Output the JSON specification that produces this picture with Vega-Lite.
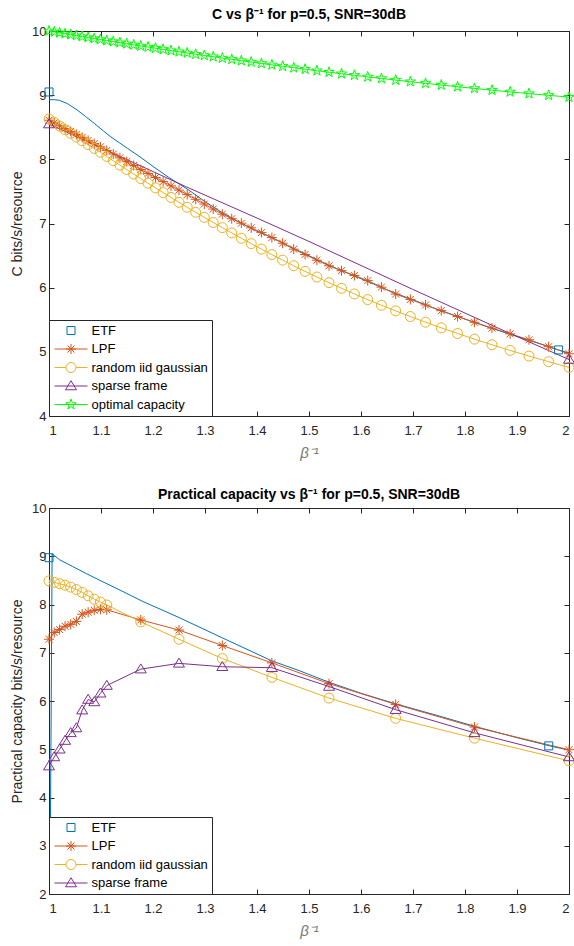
{
  "$schema": "https://vega.github.io/schema/vega-lite/v6.json",
  "padding": {"left": 10, "top": 7, "right": 2, "bottom": 2},
  "background": "white",
  "bounds": "flush",
  "spacing": 92,
  "config": {
    "font": "Liberation Sans",
    "view": {"stroke": "#262626", "strokeWidth": 1},
    "axis": {"grid": false, "domainColor": "#262626", "tickColor": "#262626", "labelColor": "#262626", "labelFontSize": 13, "titleFontSize": 14, "titleFontWeight": "normal", "titleColor": "#262626", "tickSize": -5, "domainWidth": 1, "tickWidth": 1},
    "axisX": {"labelPadding": 13, "titlePadding": 8, "titleFontStyle": "italic", "titleColor": "#777777", "titleFontSize": 15},
    "axisY": {"labelPadding": 8, "titlePadding": 7},
    "title": {"fontSize": 14, "fontWeight": "bold", "color": "#000000", "offset": 2},
    "point": {"filled": false, "size": 100, "strokeWidth": 1, "opacity": 1},
    "legend": {"orient": "bottom-left", "offset": 0, "padding": 4, "fillColor": "white", "strokeColor": "#262626", "strokeWidth": 1, "labelFontSize": 13, "labelColor": "#000000", "symbolSize": 100, "symbolStrokeWidth": 1, "symbolOffset": 11.5, "labelOffset": 14, "rowPadding": 3.5, "title": null}
  },
  "datasets": {
    "top_lines": [
      {"series": "ETF", "x": 1.0, "y": 8.93}, {"series": "ETF", "x": 1.01, "y": 8.93}, {"series": "ETF", "x": 1.02, "y": 8.92}, {"series": "ETF", "x": 1.035, "y": 8.87}, {"series": "ETF", "x": 1.054, "y": 8.77}, {"series": "ETF", "x": 1.07, "y": 8.67}, {"series": "ETF", "x": 1.087, "y": 8.56}, {"series": "ETF", "x": 1.105, "y": 8.44}, {"series": "ETF", "x": 1.119, "y": 8.35}, {"series": "ETF", "x": 1.135, "y": 8.26}, {"series": "ETF", "x": 1.151, "y": 8.17}, {"series": "ETF", "x": 1.173, "y": 8.05}, {"series": "ETF", "x": 1.2, "y": 7.89}, {"series": "ETF", "x": 1.23, "y": 7.72}, {"series": "ETF", "x": 1.269, "y": 7.52}, {"series": "ETF", "x": 1.3, "y": 7.34}, {"series": "ETF", "x": 1.333, "y": 7.17}, {"series": "ETF", "x": 1.366, "y": 7.02}, {"series": "ETF", "x": 1.397, "y": 6.89}, {"series": "ETF", "x": 1.429, "y": 6.78}, {"series": "ETF", "x": 1.471, "y": 6.61}, {"series": "ETF", "x": 1.538, "y": 6.35}, {"series": "ETF", "x": 1.6, "y": 6.14}, {"series": "ETF", "x": 1.667, "y": 5.91}, {"series": "ETF", "x": 1.7, "y": 5.81}, {"series": "ETF", "x": 1.75, "y": 5.65}, {"series": "ETF", "x": 1.8, "y": 5.51}, {"series": "ETF", "x": 1.85, "y": 5.37}, {"series": "ETF", "x": 1.9, "y": 5.24}, {"series": "ETF", "x": 1.95, "y": 5.11}, {"series": "ETF", "x": 1.98, "y": 5.03}, {"series": "ETF", "x": 2.0, "y": 4.98},
      {"series": "LPF", "x": 1.0, "y": 8.61}, {"series": "LPF", "x": 1.0101, "y": 8.568}, {"series": "LPF", "x": 1.0204, "y": 8.524}, {"series": "LPF", "x": 1.0309, "y": 8.48}, {"series": "LPF", "x": 1.0417, "y": 8.435}, {"series": "LPF", "x": 1.0526, "y": 8.389}, {"series": "LPF", "x": 1.0638, "y": 8.342}, {"series": "LPF", "x": 1.0753, "y": 8.294}, {"series": "LPF", "x": 1.087, "y": 8.245}, {"series": "LPF", "x": 1.0989, "y": 8.195}, {"series": "LPF", "x": 1.1111, "y": 8.139}, {"series": "LPF", "x": 1.1236, "y": 8.082}, {"series": "LPF", "x": 1.1364, "y": 8.024}, {"series": "LPF", "x": 1.1494, "y": 7.965}, {"series": "LPF", "x": 1.1628, "y": 7.904}, {"series": "LPF", "x": 1.1765, "y": 7.841}, {"series": "LPF", "x": 1.1905, "y": 7.78}, {"series": "LPF", "x": 1.2048, "y": 7.717}, {"series": "LPF", "x": 1.2195, "y": 7.653}, {"series": "LPF", "x": 1.2346, "y": 7.587}, {"series": "LPF", "x": 1.25, "y": 7.52}, {"series": "LPF", "x": 1.2658, "y": 7.451}, {"series": "LPF", "x": 1.2821, "y": 7.377}, {"series": "LPF", "x": 1.2987, "y": 7.303}, {"series": "LPF", "x": 1.3158, "y": 7.225}, {"series": "LPF", "x": 1.3333, "y": 7.146}, {"series": "LPF", "x": 1.3514, "y": 7.075}, {"series": "LPF", "x": 1.3699, "y": 7.005}, {"series": "LPF", "x": 1.3889, "y": 6.933}, {"series": "LPF", "x": 1.4085, "y": 6.858}, {"series": "LPF", "x": 1.4286, "y": 6.78}, {"series": "LPF", "x": 1.4493, "y": 6.693}, {"series": "LPF", "x": 1.4706, "y": 6.6}, {"series": "LPF", "x": 1.4925, "y": 6.517}, {"series": "LPF", "x": 1.5152, "y": 6.428}, {"series": "LPF", "x": 1.5385, "y": 6.34}, {"series": "LPF", "x": 1.5625, "y": 6.265}, {"series": "LPF", "x": 1.5873, "y": 6.189}, {"series": "LPF", "x": 1.6129, "y": 6.11}, {"series": "LPF", "x": 1.6393, "y": 6.008}, {"series": "LPF", "x": 1.6667, "y": 5.9}, {"series": "LPF", "x": 1.6949, "y": 5.817}, {"series": "LPF", "x": 1.7241, "y": 5.73}, {"series": "LPF", "x": 1.7544, "y": 5.642}, {"series": "LPF", "x": 1.7857, "y": 5.55}, {"series": "LPF", "x": 1.8182, "y": 5.461}, {"series": "LPF", "x": 1.8519, "y": 5.37}, {"series": "LPF", "x": 1.8868, "y": 5.28}, {"series": "LPF", "x": 1.9231, "y": 5.188}, {"series": "LPF", "x": 1.9608, "y": 5.08}, {"series": "LPF", "x": 2.0, "y": 4.97},
      {"series": "random iid gaussian", "x": 1.0, "y": 8.63}, {"series": "random iid gaussian", "x": 1.0101, "y": 8.575}, {"series": "random iid gaussian", "x": 1.0204, "y": 8.519}, {"series": "random iid gaussian", "x": 1.0309, "y": 8.462}, {"series": "random iid gaussian", "x": 1.0417, "y": 8.405}, {"series": "random iid gaussian", "x": 1.0526, "y": 8.347}, {"series": "random iid gaussian", "x": 1.0638, "y": 8.289}, {"series": "random iid gaussian", "x": 1.0753, "y": 8.23}, {"series": "random iid gaussian", "x": 1.087, "y": 8.171}, {"series": "random iid gaussian", "x": 1.0989, "y": 8.111}, {"series": "random iid gaussian", "x": 1.1111, "y": 8.045}, {"series": "random iid gaussian", "x": 1.1236, "y": 7.978}, {"series": "random iid gaussian", "x": 1.1364, "y": 7.91}, {"series": "random iid gaussian", "x": 1.1494, "y": 7.841}, {"series": "random iid gaussian", "x": 1.1628, "y": 7.771}, {"series": "random iid gaussian", "x": 1.1765, "y": 7.7}, {"series": "random iid gaussian", "x": 1.1905, "y": 7.628}, {"series": "random iid gaussian", "x": 1.2048, "y": 7.555}, {"series": "random iid gaussian", "x": 1.2195, "y": 7.481}, {"series": "random iid gaussian", "x": 1.2346, "y": 7.406}, {"series": "random iid gaussian", "x": 1.25, "y": 7.33}, {"series": "random iid gaussian", "x": 1.2658, "y": 7.253}, {"series": "random iid gaussian", "x": 1.2821, "y": 7.175}, {"series": "random iid gaussian", "x": 1.2987, "y": 7.096}, {"series": "random iid gaussian", "x": 1.3158, "y": 7.016}, {"series": "random iid gaussian", "x": 1.3333, "y": 6.935}, {"series": "random iid gaussian", "x": 1.3514, "y": 6.853}, {"series": "random iid gaussian", "x": 1.3699, "y": 6.77}, {"series": "random iid gaussian", "x": 1.3889, "y": 6.686}, {"series": "random iid gaussian", "x": 1.4085, "y": 6.601}, {"series": "random iid gaussian", "x": 1.4286, "y": 6.515}, {"series": "random iid gaussian", "x": 1.4493, "y": 6.429}, {"series": "random iid gaussian", "x": 1.4706, "y": 6.342}, {"series": "random iid gaussian", "x": 1.4925, "y": 6.254}, {"series": "random iid gaussian", "x": 1.5152, "y": 6.166}, {"series": "random iid gaussian", "x": 1.5385, "y": 6.078}, {"series": "random iid gaussian", "x": 1.5625, "y": 5.99}, {"series": "random iid gaussian", "x": 1.5873, "y": 5.902}, {"series": "random iid gaussian", "x": 1.6129, "y": 5.814}, {"series": "random iid gaussian", "x": 1.6393, "y": 5.726}, {"series": "random iid gaussian", "x": 1.6667, "y": 5.638}, {"series": "random iid gaussian", "x": 1.6949, "y": 5.55}, {"series": "random iid gaussian", "x": 1.7241, "y": 5.462}, {"series": "random iid gaussian", "x": 1.7544, "y": 5.374}, {"series": "random iid gaussian", "x": 1.7857, "y": 5.286}, {"series": "random iid gaussian", "x": 1.8182, "y": 5.198}, {"series": "random iid gaussian", "x": 1.8519, "y": 5.11}, {"series": "random iid gaussian", "x": 1.8868, "y": 5.022}, {"series": "random iid gaussian", "x": 1.9231, "y": 4.934}, {"series": "random iid gaussian", "x": 1.9608, "y": 4.846}, {"series": "random iid gaussian", "x": 2.0, "y": 4.758},
      {"series": "sparse frame", "x": 1.0, "y": 8.55}, {"series": "sparse frame", "x": 1.173, "y": 7.91}, {"series": "sparse frame", "x": 1.263, "y": 7.575}, {"series": "sparse frame", "x": 1.404, "y": 7.07}, {"series": "sparse frame", "x": 1.5, "y": 6.72}, {"series": "sparse frame", "x": 1.699, "y": 5.975}, {"series": "sparse frame", "x": 1.891, "y": 5.27}, {"series": "sparse frame", "x": 2.0, "y": 4.88},
      {"series": "optimal capacity", "x": 1.0, "y": 10.0}, {"series": "optimal capacity", "x": 1.0101, "y": 9.986}, {"series": "optimal capacity", "x": 1.0204, "y": 9.972}, {"series": "optimal capacity", "x": 1.0309, "y": 9.958}, {"series": "optimal capacity", "x": 1.0417, "y": 9.943}, {"series": "optimal capacity", "x": 1.0526, "y": 9.928}, {"series": "optimal capacity", "x": 1.0638, "y": 9.913}, {"series": "optimal capacity", "x": 1.0753, "y": 9.898}, {"series": "optimal capacity", "x": 1.087, "y": 9.882}, {"series": "optimal capacity", "x": 1.0989, "y": 9.867}, {"series": "optimal capacity", "x": 1.1111, "y": 9.851}, {"series": "optimal capacity", "x": 1.1236, "y": 9.835}, {"series": "optimal capacity", "x": 1.1364, "y": 9.818}, {"series": "optimal capacity", "x": 1.1494, "y": 9.801}, {"series": "optimal capacity", "x": 1.1628, "y": 9.784}, {"series": "optimal capacity", "x": 1.1765, "y": 9.767}, {"series": "optimal capacity", "x": 1.1905, "y": 9.75}, {"series": "optimal capacity", "x": 1.2048, "y": 9.732}, {"series": "optimal capacity", "x": 1.2195, "y": 9.714}, {"series": "optimal capacity", "x": 1.2346, "y": 9.695}, {"series": "optimal capacity", "x": 1.25, "y": 9.677}, {"series": "optimal capacity", "x": 1.2658, "y": 9.658}, {"series": "optimal capacity", "x": 1.2821, "y": 9.638}, {"series": "optimal capacity", "x": 1.2987, "y": 9.619}, {"series": "optimal capacity", "x": 1.3158, "y": 9.599}, {"series": "optimal capacity", "x": 1.3333, "y": 9.578}, {"series": "optimal capacity", "x": 1.3514, "y": 9.558}, {"series": "optimal capacity", "x": 1.3699, "y": 9.537}, {"series": "optimal capacity", "x": 1.3889, "y": 9.516}, {"series": "optimal capacity", "x": 1.4085, "y": 9.494}, {"series": "optimal capacity", "x": 1.4286, "y": 9.472}, {"series": "optimal capacity", "x": 1.4493, "y": 9.45}, {"series": "optimal capacity", "x": 1.4706, "y": 9.428}, {"series": "optimal capacity", "x": 1.4925, "y": 9.405}, {"series": "optimal capacity", "x": 1.5152, "y": 9.381}, {"series": "optimal capacity", "x": 1.5385, "y": 9.358}, {"series": "optimal capacity", "x": 1.5625, "y": 9.334}, {"series": "optimal capacity", "x": 1.5873, "y": 9.31}, {"series": "optimal capacity", "x": 1.6129, "y": 9.285}, {"series": "optimal capacity", "x": 1.6393, "y": 9.26}, {"series": "optimal capacity", "x": 1.6667, "y": 9.235}, {"series": "optimal capacity", "x": 1.6949, "y": 9.21}, {"series": "optimal capacity", "x": 1.7241, "y": 9.184}, {"series": "optimal capacity", "x": 1.7544, "y": 9.158}, {"series": "optimal capacity", "x": 1.7857, "y": 9.131}, {"series": "optimal capacity", "x": 1.8182, "y": 9.105}, {"series": "optimal capacity", "x": 1.8519, "y": 9.078}, {"series": "optimal capacity", "x": 1.8868, "y": 9.051}, {"series": "optimal capacity", "x": 1.9231, "y": 9.024}, {"series": "optimal capacity", "x": 1.9608, "y": 8.997}, {"series": "optimal capacity", "x": 2.0, "y": 8.97}
    ],
    "top_markers": [
      {"series": "ETF", "x": 1.0, "y": 9.05}, {"series": "ETF", "x": 1.98, "y": 5.03},
      {"series": "sparse frame", "x": 1.0, "y": 8.55}, {"series": "sparse frame", "x": 2.0, "y": 4.88}
    ],
    "bottom_lines": [
      {"series": "ETF", "x": 1.002, "y": 2.0}, {"series": "ETF", "x": 1.006, "y": 9.05}, {"series": "ETF", "x": 1.02, "y": 8.93}, {"series": "ETF", "x": 1.045, "y": 8.79}, {"series": "ETF", "x": 1.07, "y": 8.65}, {"series": "ETF", "x": 1.096, "y": 8.51}, {"series": "ETF", "x": 1.14, "y": 8.28}, {"series": "ETF", "x": 1.179, "y": 8.07}, {"series": "ETF", "x": 1.25, "y": 7.73}, {"series": "ETF", "x": 1.333, "y": 7.31}, {"series": "ETF", "x": 1.429, "y": 6.83}, {"series": "ETF", "x": 1.481, "y": 6.63}, {"series": "ETF", "x": 1.538, "y": 6.39}, {"series": "ETF", "x": 1.6, "y": 6.16}, {"series": "ETF", "x": 1.667, "y": 5.94}, {"series": "ETF", "x": 1.75, "y": 5.69}, {"series": "ETF", "x": 1.82, "y": 5.47}, {"series": "ETF", "x": 1.9, "y": 5.24}, {"series": "ETF", "x": 1.963, "y": 5.07}, {"series": "ETF", "x": 2.0, "y": 4.98},
      {"series": "LPF", "x": 1.0, "y": 7.28}, {"series": "LPF", "x": 1.0101, "y": 7.42}, {"series": "LPF", "x": 1.0204, "y": 7.48}, {"series": "LPF", "x": 1.0309, "y": 7.55}, {"series": "LPF", "x": 1.0417, "y": 7.59}, {"series": "LPF", "x": 1.0526, "y": 7.65}, {"series": "LPF", "x": 1.0638, "y": 7.8}, {"series": "LPF", "x": 1.0753, "y": 7.84}, {"series": "LPF", "x": 1.087, "y": 7.88}, {"series": "LPF", "x": 1.0989, "y": 7.9}, {"series": "LPF", "x": 1.1111, "y": 7.89}, {"series": "LPF", "x": 1.1765, "y": 7.68}, {"series": "LPF", "x": 1.25, "y": 7.47}, {"series": "LPF", "x": 1.3333, "y": 7.15}, {"series": "LPF", "x": 1.4286, "y": 6.79}, {"series": "LPF", "x": 1.5385, "y": 6.36}, {"series": "LPF", "x": 1.6667, "y": 5.93}, {"series": "LPF", "x": 1.8182, "y": 5.46}, {"series": "LPF", "x": 2.0, "y": 4.99},
      {"series": "random iid gaussian", "x": 1.0, "y": 8.49}, {"series": "random iid gaussian", "x": 1.0101, "y": 8.46}, {"series": "random iid gaussian", "x": 1.0204, "y": 8.43}, {"series": "random iid gaussian", "x": 1.0309, "y": 8.4}, {"series": "random iid gaussian", "x": 1.0417, "y": 8.36}, {"series": "random iid gaussian", "x": 1.0526, "y": 8.31}, {"series": "random iid gaussian", "x": 1.0638, "y": 8.25}, {"series": "random iid gaussian", "x": 1.0753, "y": 8.18}, {"series": "random iid gaussian", "x": 1.087, "y": 8.11}, {"series": "random iid gaussian", "x": 1.0989, "y": 8.05}, {"series": "random iid gaussian", "x": 1.1111, "y": 7.99}, {"series": "random iid gaussian", "x": 1.1765, "y": 7.64}, {"series": "random iid gaussian", "x": 1.25, "y": 7.28}, {"series": "random iid gaussian", "x": 1.3333, "y": 6.88}, {"series": "random iid gaussian", "x": 1.4286, "y": 6.49}, {"series": "random iid gaussian", "x": 1.5385, "y": 6.06}, {"series": "random iid gaussian", "x": 1.6667, "y": 5.64}, {"series": "random iid gaussian", "x": 1.8182, "y": 5.23}, {"series": "random iid gaussian", "x": 2.0, "y": 4.76},
      {"series": "sparse frame", "x": 1.0, "y": 4.65}, {"series": "sparse frame", "x": 1.0101, "y": 4.84}, {"series": "sparse frame", "x": 1.0204, "y": 5.0}, {"series": "sparse frame", "x": 1.0309, "y": 5.18}, {"series": "sparse frame", "x": 1.0417, "y": 5.34}, {"series": "sparse frame", "x": 1.0526, "y": 5.44}, {"series": "sparse frame", "x": 1.0638, "y": 5.81}, {"series": "sparse frame", "x": 1.0753, "y": 6.03}, {"series": "sparse frame", "x": 1.087, "y": 5.98}, {"series": "sparse frame", "x": 1.0989, "y": 6.16}, {"series": "sparse frame", "x": 1.1111, "y": 6.32}, {"series": "sparse frame", "x": 1.1765, "y": 6.66}, {"series": "sparse frame", "x": 1.25, "y": 6.78}, {"series": "sparse frame", "x": 1.3333, "y": 6.71}, {"series": "sparse frame", "x": 1.4286, "y": 6.69}, {"series": "sparse frame", "x": 1.5385, "y": 6.3}, {"series": "sparse frame", "x": 1.6667, "y": 5.82}, {"series": "sparse frame", "x": 1.8182, "y": 5.34}, {"series": "sparse frame", "x": 2.0, "y": 4.84}
    ],
    "bottom_markers": [
      {"series": "ETF", "x": 1.0, "y": 8.97}, {"series": "ETF", "x": 1.961, "y": 5.07}
    ]
  },
  "resolve": {"scale": {"color": "independent", "x": "independent", "y": "independent"}, "legend": {"color": "independent"}},
  "vconcat": [
    {
      "width": 520, "height": 385,
      "title": {"text": "C vs β⁻¹ for p=0.5, SNR=30dB", "offset": 2},
      "resolve": {"axis": {"x": "independent", "y": "independent"}},
      "layer": [
        {
          "data": {"name": "top_lines"},
          "mark": {"type": "line", "strokeWidth": 1, "clip": true},
          "encoding": {
            "x": {"field": "x", "type": "quantitative", "scale": {"domain": [1, 2], "nice": false, "zero": false}, "axis": {"title": "β⁻¹", "values": [1, 1.1, 1.2, 1.3, 1.4, 1.5, 1.6, 1.7, 1.8, 1.9, 2], "format": "~g"}},
            "y": {"field": "y", "type": "quantitative", "scale": {"domain": [4, 10], "nice": false, "zero": false}, "axis": {"title": "C bits/s/resource", "values": [4, 5, 6, 7, 8, 9, 10]}},
            "color": {"field": "series", "type": "nominal", "scale": {"domain": ["ETF", "LPF", "random iid gaussian", "sparse frame", "optimal capacity"], "range": ["#0072BD", "#D95319", "#EDB120", "#7E2F8E", "#00FF00"]},
              "legend": {"encode": {"symbols": {"update": {"fill": {"value": "transparent"}, "shape": {"signal": "datum.value === 'ETF' ? 'M-0.8,-0.8H0.8V0.8H-0.8Z' : datum.value === 'LPF' ? 'M-3.3,0H3.3M0,-1V1M-1,0H1M-0.7,-0.7L0.7,0.7M-0.7,0.7L0.7,-0.7' : datum.value === 'random iid gaussian' ? 'M-3.3,0H-1M1,0H3.3M-1,0A1,1,0,1,1,1,0A1,1,0,1,1,-1,0Z' : datum.value === 'sparse frame' ? 'M-3.3,0H3.3M0,-1.05L1.1,0.75H-1.1Z' : 'M-3.3,0H3.3M0,-1.1L0.247,-0.34L1.046,-0.34L0.399,0.13L0.647,0.89L0,0.42L-0.647,0.89L-0.399,0.13L-1.046,-0.34L-0.247,-0.34Z'"}}}}}},
            "detail": {"field": "series"}
          }
        },
        {
          "data": {"name": "top_lines"},
          "transform": [{"filter": {"field": "series", "equal": "LPF"}}],
          "mark": {"type": "point", "shape": "M0,-1V1M-1,0H1M-0.7,-0.7L0.7,0.7M-0.7,0.7L0.7,-0.7"},
          "encoding": {
            "x": {"field": "x", "type": "quantitative", "axis": null},
            "y": {"field": "y", "type": "quantitative", "axis": null},
            "color": {"field": "series", "type": "nominal"}
          }
        },
        {
          "data": {"name": "top_lines"},
          "transform": [{"filter": {"field": "series", "equal": "random iid gaussian"}}],
          "mark": {"type": "point", "shape": "M-1,0A1,1,0,1,1,1,0A1,1,0,1,1,-1,0Z"},
          "encoding": {
            "x": {"field": "x", "type": "quantitative", "axis": null},
            "y": {"field": "y", "type": "quantitative", "axis": null},
            "color": {"field": "series", "type": "nominal"}
          }
        },
        {
          "data": {"name": "top_lines"},
          "transform": [{"filter": {"field": "series", "equal": "optimal capacity"}}],
          "mark": {"type": "point", "shape": "M0,-1.1L0.247,-0.34L1.046,-0.34L0.399,0.13L0.647,0.89L0,0.42L-0.647,0.89L-0.399,0.13L-1.046,-0.34L-0.247,-0.34Z"},
          "encoding": {
            "x": {"field": "x", "type": "quantitative", "axis": null},
            "y": {"field": "y", "type": "quantitative", "axis": null},
            "color": {"field": "series", "type": "nominal"}
          }
        },
        {
          "data": {"name": "top_markers"},
          "transform": [{"filter": {"field": "series", "equal": "sparse frame"}}],
          "mark": {"type": "point", "shape": "M0,-1.05L1.1,0.75H-1.1Z"},
          "encoding": {
            "x": {"field": "x", "type": "quantitative", "axis": null},
            "y": {"field": "y", "type": "quantitative", "axis": null},
            "color": {"field": "series", "type": "nominal"}
          }
        },
        {
          "data": {"name": "top_markers"},
          "transform": [{"filter": {"field": "series", "equal": "ETF"}}],
          "mark": {"type": "point", "shape": "M-0.8,-0.8H0.8V0.8H-0.8Z"},
          "encoding": {
            "x": {"field": "x", "type": "quantitative", "axis": {"orient": "top", "labels": false, "title": null, "domain": false, "values": [1, 1.1, 1.2, 1.3, 1.4, 1.5, 1.6, 1.7, 1.8, 1.9, 2]}},
            "y": {"field": "y", "type": "quantitative", "axis": {"orient": "right", "labels": false, "title": null, "domain": false, "values": [4, 5, 6, 7, 8, 9, 10]}},
            "color": {"field": "series", "type": "nominal"}
          }
        }
      ]
    },
    {
      "width": 520, "height": 386,
      "title": {"text": "Practical capacity vs β⁻¹ for p=0.5, SNR=30dB", "offset": 0},
      "resolve": {"axis": {"x": "independent", "y": "independent"}},
      "layer": [
        {
          "data": {"name": "bottom_lines"},
          "mark": {"type": "line", "strokeWidth": 1, "clip": true},
          "encoding": {
            "x": {"field": "x", "type": "quantitative", "scale": {"domain": [1, 2], "nice": false, "zero": false}, "axis": {"title": "β⁻¹", "values": [1, 1.1, 1.2, 1.3, 1.4, 1.5, 1.6, 1.7, 1.8, 1.9, 2], "format": "~g"}},
            "y": {"field": "y", "type": "quantitative", "scale": {"domain": [2, 10], "nice": false, "zero": false}, "axis": {"title": "Practical capacity bits/s/resource", "values": [2, 3, 4, 5, 6, 7, 8, 9, 10]}},
            "color": {"field": "series", "type": "nominal", "scale": {"domain": ["ETF", "LPF", "random iid gaussian", "sparse frame"], "range": ["#0072BD", "#D95319", "#EDB120", "#7E2F8E"]},
              "legend": {"encode": {"symbols": {"update": {"fill": {"value": "transparent"}, "shape": {"signal": "datum.value === 'ETF' ? 'M-0.8,-0.8H0.8V0.8H-0.8Z' : datum.value === 'LPF' ? 'M-3.3,0H3.3M0,-1V1M-1,0H1M-0.7,-0.7L0.7,0.7M-0.7,0.7L0.7,-0.7' : datum.value === 'random iid gaussian' ? 'M-3.3,0H-1M1,0H3.3M-1,0A1,1,0,1,1,1,0A1,1,0,1,1,-1,0Z' : 'M-3.3,0H3.3M0,-1.05L1.1,0.75H-1.1Z'"}}}}}},
            "detail": {"field": "series"}
          }
        },
        {
          "data": {"name": "bottom_lines"},
          "transform": [{"filter": {"field": "series", "equal": "LPF"}}],
          "mark": {"type": "point", "shape": "M0,-1V1M-1,0H1M-0.7,-0.7L0.7,0.7M-0.7,0.7L0.7,-0.7"},
          "encoding": {
            "x": {"field": "x", "type": "quantitative", "axis": null},
            "y": {"field": "y", "type": "quantitative", "axis": null},
            "color": {"field": "series", "type": "nominal"}
          }
        },
        {
          "data": {"name": "bottom_lines"},
          "transform": [{"filter": {"field": "series", "equal": "random iid gaussian"}}],
          "mark": {"type": "point", "shape": "M-1,0A1,1,0,1,1,1,0A1,1,0,1,1,-1,0Z"},
          "encoding": {
            "x": {"field": "x", "type": "quantitative", "axis": null},
            "y": {"field": "y", "type": "quantitative", "axis": null},
            "color": {"field": "series", "type": "nominal"}
          }
        },
        {
          "data": {"name": "bottom_lines"},
          "transform": [{"filter": {"field": "series", "equal": "sparse frame"}}],
          "mark": {"type": "point", "shape": "M0,-1.05L1.1,0.75H-1.1Z"},
          "encoding": {
            "x": {"field": "x", "type": "quantitative", "axis": null},
            "y": {"field": "y", "type": "quantitative", "axis": null},
            "color": {"field": "series", "type": "nominal"}
          }
        },
        {
          "data": {"name": "bottom_markers"},
          "mark": {"type": "point", "shape": "M-0.8,-0.8H0.8V0.8H-0.8Z"},
          "encoding": {
            "x": {"field": "x", "type": "quantitative", "axis": {"orient": "top", "labels": false, "title": null, "domain": false, "values": [1, 1.1, 1.2, 1.3, 1.4, 1.5, 1.6, 1.7, 1.8, 1.9, 2]}},
            "y": {"field": "y", "type": "quantitative", "axis": {"orient": "right", "labels": false, "title": null, "domain": false, "values": [2, 3, 4, 5, 6, 7, 8, 9, 10]}},
            "color": {"field": "series", "type": "nominal"}
          }
        }
      ]
    }
  ]
}
